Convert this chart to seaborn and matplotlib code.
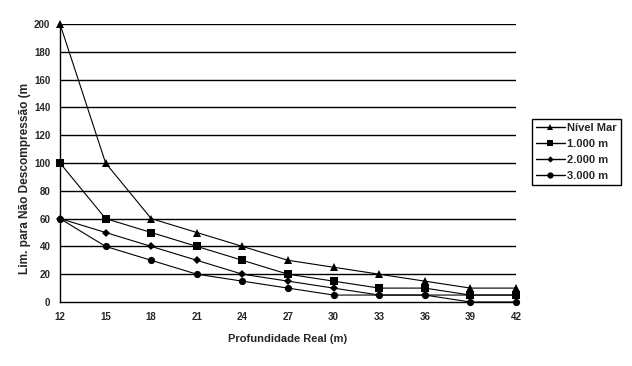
import matplotlib
matplotlib.use("Agg")
import matplotlib.pyplot as plt
import seaborn as sns
import pandas as pd

depths = [12, 15, 18, 21, 24, 27, 30, 33, 36, 39, 42]
series_names = ["Nível Mar", "1.000 m", "2.000 m", "3.000 m"]
nivel_mar = [200, 100, 60, 50, 40, 30, 25, 20, 15, 10, 10]
alt_1000 = [100, 60, 50, 40, 30, 20, 15, 10, 10, 5, 5]
alt_2000 = [60, 50, 40, 30, 20, 15, 10, 5, 5, 5, 5]
alt_3000 = [60, 40, 30, 20, 15, 10, 5, 5, 5, 0, 0]
y_ticks = [0, 20, 40, 60, 80, 100, 120, 140, 160, 180, 200]

rows = []
for name, vals in zip(series_names, [nivel_mar, alt_1000, alt_2000, alt_3000]):
    for d, v in zip(depths, vals):
        rows.append({"depth": d, "value": v, "serie": name})
df = pd.DataFrame(rows)

sns.set_style("white")
plt.rcParams["font.family"] = ["Liberation Sans", "DejaVu Sans"]
plt.rcParams["font.weight"] = "bold"

fig = plt.figure(figsize=(6.32, 3.66), dpi=100)
ax = fig.add_axes([60 / 632, 1 - 302 / 366, (516 - 60) / 632, (302 - 24) / 366])

for y in y_ticks[1:]:
    ax.axhline(y, color="black", lw=1.0, zorder=0)

markers = {"Nível Mar": "^", "1.000 m": "s", "2.000 m": "D", "3.000 m": "o"}
sizes = {"Nível Mar": 6, "1.000 m": 5.8, "2.000 m": 4.2, "3.000 m": 5.2}
leg_sizes = {"Nível Mar": 4.5, "1.000 m": 5, "2.000 m": 3.2, "3.000 m": 4.5}
sns.lineplot(data=df, x="depth", y="value", hue="serie", style="serie",
             markers=markers, dashes=False,
             palette={n: "black" for n in series_names},
             linewidth=0.8, markersize=6, markeredgewidth=0,
             ax=ax, legend=True, clip_on=False)
for line, name in zip(ax.get_lines()[len(y_ticks) - 1:], series_names):
    line.set_markersize(sizes[name])
    line.set_clip_on(False)

ax.set_xlim(12, 42)
ax.set_ylim(0, 200)
ax.set_xticks(depths)
ax.set_yticks(y_ticks)
ax.tick_params(axis="both", direction="out", length=4, width=1, color="black",
               labelsize=7, pad=3)
for lab in ax.get_xticklabels() + ax.get_yticklabels():
    lab.set_fontweight("bold")
for s in ["top", "right"]:
    ax.spines[s].set_visible(False)
for s in ["left", "bottom"]:
    ax.spines[s].set_color("black")
    ax.spines[s].set_linewidth(1)
ax.set_xlabel("Profundidade Real (m)", fontsize=8, fontweight="bold", labelpad=9)
ax.set_ylabel("")
fig.text(25 / 632, 1 - 178 / 366, "Lim. para Não Descompressão (m", rotation=90,
         fontsize=8.6, fontweight="bold", ha="center", va="center")

handles, labels = ax.get_legend_handles_labels()
for h, name in zip(handles, labels):
    h.set_markersize(leg_sizes.get(name, 5))
    h.set_linewidth(1.0)
leg = ax.legend(handles, labels, loc="upper left",
                bbox_to_anchor=(532 / 632, 1 - 119 / 366), bbox_transform=fig.transFigure,
                borderaxespad=0,
                frameon=True, fancybox=False, edgecolor="black", framealpha=1,
                prop={"size": 8, "weight": "bold"}, handlelength=2.6,
                borderpad=0.35, labelspacing=0.55, handletextpad=0.2)
leg.get_frame().set_linewidth(1)

fig.savefig("out.png", dpi=100, facecolor="white")
